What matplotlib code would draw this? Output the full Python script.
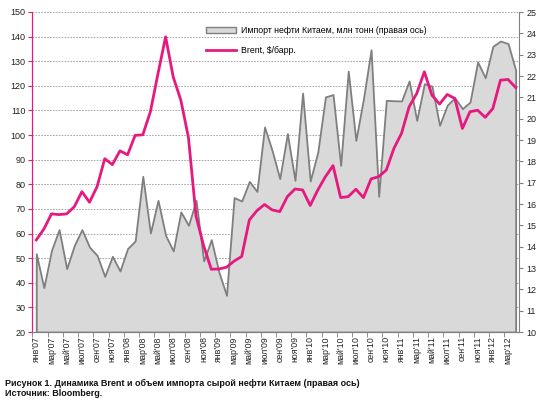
import matplotlib
matplotlib.use('Agg')
import matplotlib.pyplot as plt
import matplotlib.transforms as mtransforms
from matplotlib.patches import Patch
from matplotlib.lines import Line2D

plt.rcParams['font.family'] = ['Liberation Sans', 'DejaVu Sans']

# Monthly data, Jan 2007 - Apr 2012
brent = [57.4, 61.8, 68.0, 67.7, 68.0, 70.9, 77.0, 72.7, 79.1, 90.4, 88.0, 93.6,
         92.0, 99.9, 100.1, 109.5, 125.0, 139.9, 123.6, 114.2, 99.0, 67.0, 55.0, 45.5,
         45.6, 46.3, 48.8, 50.7, 65.5, 69.3, 71.8, 69.6, 68.9, 75.0, 78.1, 77.7,
         71.4, 77.7, 83.1, 87.6, 74.6, 75.0, 78.0, 74.6, 82.2, 83.1, 85.8, 94.6,
         100.7, 111.5, 116.9, 125.7, 116.2, 112.6, 116.5, 114.9, 102.7, 109.5, 110.1, 107.2,
         110.8, 122.3, 122.6, 119.3]
imports = [13.67, 12.08, 13.83, 14.80, 12.97, 14.06, 14.80, 13.98, 13.59, 12.61, 13.55, 12.86,
           13.91, 14.27, 17.30, 14.64, 16.17, 14.53, 13.80, 15.63, 15.00, 16.17, 13.33, 14.33,
           12.81, 11.72, 16.30, 16.14, 17.06, 16.59, 19.61, 18.50, 17.19, 19.30, 17.11, 21.20,
           17.08, 18.44, 21.02, 21.13, 17.81, 22.23, 18.98, 20.94, 23.23, 16.36, 20.86, 20.84,
           20.83, 21.77, 19.92, 21.64, 21.52, 19.69, 20.63, 20.98, 20.47, 20.78, 22.66, 21.92,
           23.39, 23.64, 23.52, 22.27]
month_names = ['янв', 'фев', 'мар', 'апр', 'май', 'июн', 'июл', 'авг', 'сен', 'окт', 'ноя', 'дек']
years = ['07', '08', '09', '10', '11', '12']

x = list(range(len(brent)))
labels = [month_names[i % 12] + "'" + years[i // 12] for i in x]

pink = '#E6197E'
fig = plt.figure(figsize=(5.5, 4), dpi=100)
ax = fig.add_axes([0.059, 0.17, 0.8855, 0.80])
ax2 = ax.twinx()

# left axis: Brent scale + grid (behind area)
ax.set_ylim(20, 150)
ax.set_yticks(range(20, 151, 10))
ax.grid(axis='y', color='#9a9a9a', linestyle=(0, (2, 1.5)), linewidth=0.6)
ax.set_axisbelow(True)

# right axis: imports area, Brent line drawn on top using left scale
ax2.fill_between(x, 10, imports, facecolor='#D9D9D9', edgecolor='#7f7f7f', linewidth=1.3)
tr = mtransforms.blended_transform_factory(ax2.transData, ax.transData)
ax2.plot(x, brent, color=pink, linewidth=2, transform=tr)
ax2.set_ylim(10, 25)
ax2.set_yticks(range(10, 26))
ax.set_xlim(-0.5, len(x) - 0.5)

ax.set_xticks(x[::2])
ax.set_xticklabels(labels[::2], rotation=90, fontsize=6.3, color='#222222')
ax.set_xticks([i - 0.5 for i in x[::2]], minor=True)
ax.tick_params(axis='x', which='major', length=0, pad=3)
ax.tick_params(axis='x', which='minor', length=3.5, color='#808080')
ax.tick_params(axis='y', labelsize=6.5, colors=pink, labelcolor='#222222', length=3, pad=2)
ax2.tick_params(axis='y', labelsize=6.5, color='#808080', labelcolor='#222222', length=3, pad=2)

for a in (ax, ax2):
    a.spines['top'].set_visible(False)
    a.spines['bottom'].set_color('#808080')
ax2.spines['left'].set_color(pink)
ax2.spines['right'].set_color('#808080')
ax.spines['left'].set_color(pink)
ax.spines['right'].set_visible(False)

handles = [Patch(facecolor='#D9D9D9', edgecolor='#7f7f7f', linewidth=1),
           Line2D([0], [0], color=pink, linewidth=2)]
ax2.legend(handles, ['Импорт нефти Китаем, млн тонн (правая ось)', 'Brent, $/барр.'],
           loc='upper left', bbox_to_anchor=(0.366, 0.945), bbox_transform=fig.transFigure,
           frameon=False, fontsize=6.3, handlelength=3.5, handletextpad=0.5,
           labelspacing=1.25, borderpad=0)

fig.text(0.009, 1 - 383 / 400, 'Рисунок 1. Динамика Brent и объем импорта сырой нефти Китаем (правая ось)',
         fontsize=6.5, fontweight='bold', va='center', color='#111111')
fig.text(0.009, 1 - 393 / 400, 'Источник: Bloomberg.',
         fontsize=6.5, fontweight='bold', va='center', color='#111111')

fig.savefig('out.png', dpi=100)
